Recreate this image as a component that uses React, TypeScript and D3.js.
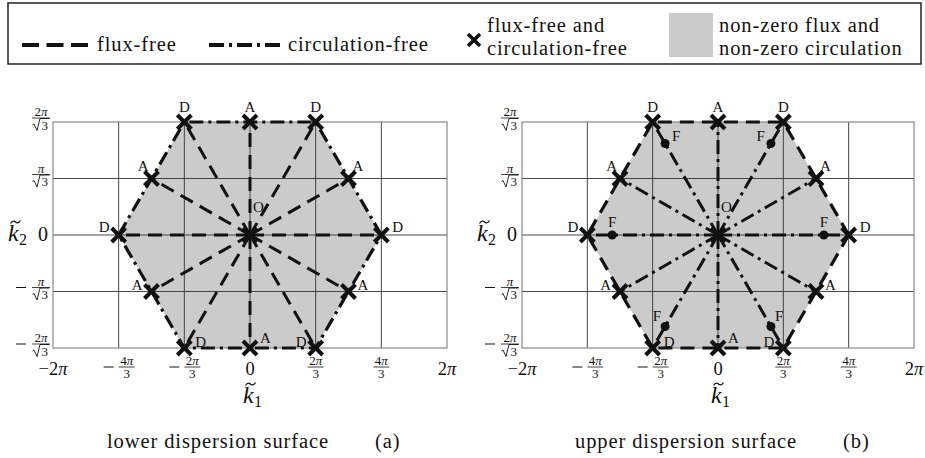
import React from 'react';
import * as d3 from 'd3';

const PI = Math.PI;
const S3 = Math.sqrt(3);

// ---- data ----
const xTickValues = [-2 * PI, -4 * PI / 3, -2 * PI / 3, 0, 2 * PI / 3, 4 * PI / 3, 2 * PI];
const xTickLabels = ['−2π', '−4π/3', '−2π/3', '0', '2π/3', '4π/3', '2π'];
const yTickValues = [-2 * PI / S3, -PI / S3, 0, PI / S3, 2 * PI / S3];
const yTickLabels = ['−2π/√3', '−π/√3', '0', 'π/√3', '2π/√3'];

const dPoints: [number, number][] = [
  [4 * PI / 3, 0], [2 * PI / 3, 2 * PI / S3], [-2 * PI / 3, 2 * PI / S3],
  [-4 * PI / 3, 0], [-2 * PI / 3, -2 * PI / S3], [2 * PI / 3, -2 * PI / S3],
];
const aPoints: [number, number][] = [
  [PI, PI / S3], [0, 2 * PI / S3], [-PI, PI / S3],
  [-PI, -PI / S3], [0, -2 * PI / S3], [PI, -PI / S3],
];
const origin: [number, number] = [0, 0];
const fRatio = 0.81;
const fPoints: [number, number][] = dPoints.map(([x, y]) => [x * fRatio, y * fRatio]);

const legendItems = ['flux-free', 'circulation-free'];
const legendMarkerText = ['flux-free and', 'circulation-free'];
const legendFillText = ['non-zero flux and', 'non-zero circulation'];
const captions = [
  { text: 'lower dispersion surface', tag: '(a)' },
  { text: 'upper dispersion surface', tag: '(b)' },
];

// ---- style ----
const FONT = "'Liberation Serif', 'Times New Roman', serif";
const TXT = 20.5;
const LS = 0.9;
const FILL = '#cbcbcb';
const DASH = '14,8';
const DASHDOT = '14,5,3,5';
const FRAC = 13;
type LStyle = { dx: number; dy: number; a: 'start' | 'middle' | 'end' };
const dLabelStyle: LStyle[] = [
  { dx: 11, dy: -3, a: 'start' }, { dx: 0, dy: -10, a: 'middle' }, { dx: 0, dy: -10, a: 'middle' },
  { dx: -9, dy: -3, a: 'end' }, { dx: 11, dy: -1, a: 'start' }, { dx: -9, dy: -1, a: 'end' },
];
const aLabelStyle: LStyle[] = [
  { dx: 4, dy: -8, a: 'start' }, { dx: 0, dy: -10, a: 'middle' }, { dx: -3, dy: -8, a: 'end' },
  { dx: -9, dy: -2, a: 'end' }, { dx: 10, dy: -5, a: 'start' }, { dx: 9, dy: -2, a: 'start' },
];
const fLabelStyle: LStyle[] = [
  { dx: 0, dy: -8, a: 'middle' }, { dx: -6, dy: -2, a: 'end' }, { dx: 7, dy: -2, a: 'start' },
  { dx: 0, dy: -8, a: 'middle' }, { dx: -4, dy: -6, a: 'end' }, { dx: 4, dy: -6, a: 'start' },
];

function Cross({ x, y, s = 7, w = 4 }: { x: number; y: number; s?: number; w?: number }) {
  return (
    <g stroke="#111" strokeWidth={w} strokeLinecap="butt">
      <line x1={x - s} y1={y - s} x2={x + s} y2={y + s} />
      <line x1={x - s} y1={y + s} x2={x + s} y2={y - s} />
    </g>
  );
}

function Den({ cx, by, text }: { cx: number; by: number; text: string }) {
  if (text.startsWith('√')) {
    const d = `M${cx - 8.5},${by - 4.5} L${cx - 7},${by - 5.5} L${cx - 4},${by + 1} L${cx - 1},${by - 11} L${cx + 8.5},${by - 11}`;
    return (
      <g>
        <path d={d} fill="none" stroke="#111" strokeWidth={0.9} />
        <text x={cx + 3.8} y={by} textAnchor="middle" fontSize={FRAC} fontFamily={FONT} fill="#111">{text.slice(1)}</text>
      </g>
    );
  }
  return <text x={cx} y={by} textAnchor="middle" fontSize={FRAC} fontFamily={FONT} fill="#111">{text}</text>;
}

function Num({ cx, by, text }: { cx: number; by: number; text: string }) {
  const m = text.match(/^(\d*)(π)$/);
  return (
    <text x={cx} y={by} textAnchor="middle" fontSize={FRAC} fontFamily={FONT} fill="#111">
      {m ? m[1] : text}{m ? <tspan fontStyle="italic">π</tspan> : null}
    </text>
  );
}

function Whole({ x, y, text, anchor, size = 18.5 }: { x: number; y: number; text: string; anchor: 'start' | 'middle' | 'end'; size?: number }) {
  const hasPi = text.endsWith('π');
  const base = hasPi ? text.slice(0, -1) : text;
  return (
    <text x={x} y={y} textAnchor={anchor} fontSize={size} fontFamily={FONT} fill="#111">
      {base}{hasPi ? <tspan fontStyle="italic">π</tspan> : null}
    </text>
  );
}

function XTickLabel({ x, label }: { x: number; label: string }) {
  if (!label.includes('/')) return <Whole x={x} y={375} text={label} anchor="middle" />;
  const neg = label.startsWith('−');
  const body = neg ? label.slice(1) : label;
  const [num, den] = body.split('/');
  const barY = 367;
  const fw = 16;
  const fcx = neg ? x + 8 : x;
  return (
    <g>
      {neg && <line x1={x - 15} x2={x - 5} y1={barY} y2={barY} stroke="#111" strokeWidth={1} />}
      <Num cx={fcx} by={barY - 2} text={num} />
      <line x1={fcx - fw / 2} x2={fcx + fw / 2} y1={barY} y2={barY} stroke="#111" strokeWidth={0.8} />
      <Den cx={fcx} by={barY + 11} text={den} />
    </g>
  );
}

function YTickLabel({ left, y, label }: { left: number; y: number; label: string }) {
  if (!label.includes('/')) return <Whole x={left - 5} y={y + 6} text={label} anchor="end" size={20} />;
  const neg = label.startsWith('−');
  const body = neg ? label.slice(1) : label;
  const [num, den] = body.split('/');
  const barY = y - 4;
  const fcx = left - 12;
  const fw = 18;
  return (
    <g>
      {neg && <line x1={left - 37} x2={left - 27} y1={barY} y2={barY} stroke="#111" strokeWidth={1} />}
      <Num cx={fcx} by={barY - 2} text={num} />
      <line x1={fcx - fw / 2} x2={fcx + fw / 2} y1={barY} y2={barY} stroke="#111" strokeWidth={0.8} />
      <Den cx={fcx} by={barY + 11.5} text={den} />
    </g>
  );
}

function Tilde({ cx, cy }: { cx: number; cy: number }) {
  const d = `M${cx - 5},${cy + 1.5} C${cx - 3},${cy - 2} ${cx - 1},${cy - 1} ${cx},${cy} S${cx + 3},${cy + 2} ${cx + 5},${cy - 1.5}`;
  return <path d={d} fill="none" stroke="#111" strokeWidth={1.2} />;
}

function KLabel({ x, y, sub }: { x: number; y: number; sub: string }) {
  return (
    <g>
      <text x={x} y={y} fontSize={24} fontStyle="italic" fontFamily={FONT} fill="#111">k</text>
      <Tilde cx={x + 7.5} cy={y - 19} />
      <text x={x + 11} y={y + 4} fontSize={16} fontFamily={FONT} fill="#111">{sub}</text>
    </g>
  );
}

function Panel({ left, right, upper, caption }: { left: number; right: number; upper: boolean; caption: { text: string; tag: string } }) {
  const x = d3.scaleLinear().domain([-2 * PI, 2 * PI]).range([left, right]);
  const y = d3.scaleLinear().domain([-2 * PI / S3, 2 * PI / S3]).range([348, 122]);
  const hexOrder: [number, number][] = [];
  dPoints.forEach((d, i) => { hexOrder.push(d); hexOrder.push(aPoints[i]); });
  const hexPath = d3.line<[number, number]>().x(d => x(d[0])).y(d => y(d[1])).curve(d3.curveLinearClosed)(hexOrder) || '';
  const radialEnds = [...dPoints, ...aPoints];
  const edgeDash = upper ? DASH : DASHDOT;
  const radDash = upper ? DASHDOT : DASH;
  const cx = x(0);
  return (
    <g>
      <path d={hexPath} fill={FILL} stroke="none" />
      {xTickValues.slice(1, -1).map((v, i) => (
        <line key={'gx' + i} x1={x(v)} x2={x(v)} y1={y(-2 * PI / S3)} y2={y(2 * PI / S3)} stroke="#333" strokeWidth={0.9} />
      ))}
      {yTickValues.slice(1, -1).map((v, i) => (
        <line key={'gy' + i} x1={left} x2={right} y1={y(v)} y2={y(v)} stroke="#333" strokeWidth={0.9} />
      ))}
      <rect x={left} y={y(2 * PI / S3)} width={right - left} height={y(-2 * PI / S3) - y(2 * PI / S3)} fill="none" stroke="#888" strokeWidth={1.2} />
      {radialEnds.map((p, i) => (
        <line key={'r' + i} x1={x(origin[0])} y1={y(origin[1])} x2={x(p[0])} y2={y(p[1])}
          stroke="#111" strokeWidth={3} strokeDasharray={radDash} />
      ))}
      <path d={hexPath} fill="none" stroke="#111" strokeWidth={3.2} strokeDasharray={edgeDash} />
      {upper && fPoints.map((p, i) => (
        <circle key={'f' + i} cx={x(p[0])} cy={y(p[1])} r={4.5} fill="#111" />
      ))}
      {[...dPoints, ...aPoints, origin].map((p, i) => (
        <Cross key={'c' + i} x={x(p[0])} y={y(p[1])} />
      ))}
      {dPoints.map((p, i) => (
        <text key={'dl' + i} x={x(p[0]) + dLabelStyle[i].dx} y={y(p[1]) + dLabelStyle[i].dy} textAnchor={dLabelStyle[i].a}
          fontSize={15} fontFamily={FONT} fill="#111">D</text>
      ))}
      {aPoints.map((p, i) => (
        <text key={'al' + i} x={x(p[0]) + aLabelStyle[i].dx} y={y(p[1]) + aLabelStyle[i].dy} textAnchor={aLabelStyle[i].a}
          fontSize={15} fontFamily={FONT} fill="#111">A</text>
      ))}
      {upper && fPoints.map((p, i) => (
        <text key={'fl' + i} x={x(p[0]) + fLabelStyle[i].dx} y={y(p[1]) + fLabelStyle[i].dy} textAnchor={fLabelStyle[i].a}
          fontSize={15} fontFamily={FONT} fill="#111">F</text>
      ))}
      <text x={x(origin[0]) + 3} y={y(origin[1]) - 23} fontSize={15} fontFamily={FONT} fill="#111">O</text>
      {xTickValues.map((v, i) => <XTickLabel key={'xt' + i} x={x(v)} label={xTickLabels[i]} />)}
      {yTickValues.map((v, i) => <YTickLabel key={'yt' + i} left={left} y={y(v)} label={yTickLabels[i]} />)}
      <KLabel x={cx - 7} y={403} sub="1" />
      <KLabel x={left - 45} y={241} sub="2" />
      <text x={cx - 143} y={448} fontSize={TXT} letterSpacing={LS} fontFamily={FONT} fill="#111">{caption.text}</text>
      <text x={cx + 125} y={448} fontSize={TXT} letterSpacing={LS} fontFamily={FONT} fill="#111">{caption.tag}</text>
    </g>
  );
}

export default function App() {
  const T = (x: number, y: number, s: string) => (
    <text x={x} y={y} fontSize={TXT} letterSpacing={LS} fontFamily={FONT} fill="#111">{s}</text>
  );
  return (
    <svg width={925} height={458} viewBox="0 0 925 458" style={{ position: 'absolute', left: 0, top: 0, background: '#fff' }}>
      <rect x={0} y={0} width={925} height={458} fill="#fff" />
      {/* legend */}
      <rect x={8} y={3} width={913} height={61} fill="#fff" stroke="#222" strokeWidth={1.5} />
      <line x1={22} x2={88} y1={45} y2={45} stroke="#111" strokeWidth={4} strokeDasharray="17,7.5" />
      {T(97, 51, legendItems[0])}
      <line x1={209} x2={284} y1={45} y2={45} stroke="#111" strokeWidth={4} strokeDasharray="15,5,3,5" />
      {T(288, 51, legendItems[1])}
      <Cross x={474} y={40} s={6} w={3.5} />
      {T(487, 32, legendMarkerText[0])}
      {T(487, 55, legendMarkerText[1])}
      <rect x={669} y={13} width={44} height={44} fill={FILL} />
      {T(719, 32, legendFillText[0])}
      {T(719, 55, legendFillText[1])}
      <Panel left={53} right={447} upper={false} caption={captions[0]} />
      <Panel left={522} right={914} upper={true} caption={captions[1]} />
    </svg>
  );
}
